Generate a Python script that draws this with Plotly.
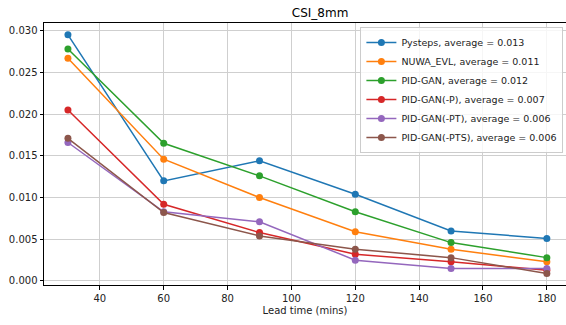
import plotly.graph_objects as go

lead_time = [30, 60, 90, 120, 150, 180]
pysteps = [0.0295, 0.0120, 0.0144, 0.0104, 0.0060, 0.0051]
nuwa_evl = [0.0267, 0.0146, 0.0100, 0.0059, 0.0038, 0.0023]
pid_gan = [0.0278, 0.0165, 0.0126, 0.0083, 0.0046, 0.0028]
pid_gan_p = [0.0205, 0.0092, 0.0058, 0.0032, 0.0023, 0.0013]
pid_gan_pt = [0.0166, 0.0083, 0.0071, 0.0025, 0.0015, 0.0015]
pid_gan_pts = [0.0171, 0.0082, 0.0054, 0.0038, 0.0028, 0.0009]

names = ["Pysteps, average = 0.013", "NUWA_EVL, average = 0.011", "PID-GAN, average = 0.012",
         "PID-GAN(-P), average = 0.007", "PID-GAN(-PT), average = 0.006", "PID-GAN(-PTS), average = 0.006"]
series = [pysteps, nuwa_evl, pid_gan, pid_gan_p, pid_gan_pt, pid_gan_pts]
colors = ["#1f77b4", "#ff7f0e", "#2ca02c", "#d62728", "#9467bd", "#8c564b"]

fig = go.Figure()
for n, s, c in zip(names, series, colors):
    fig.add_trace(go.Scatter(x=lead_time, y=s, name=n, mode="lines+markers",
                             line=dict(color=c, width=1.5), marker=dict(color=c, size=7)))

axis_common = dict(showline=True, linecolor="black", linewidth=1, mirror=True,
                   showgrid=True, gridcolor="#cfcfcf", gridwidth=1, zeroline=False,
                   ticks="outside", ticklen=3.5, tickcolor="black",
                   tickfont=dict(family="DejaVu Sans", size=10, color="#222"))
fig.update_layout(
    width=566, height=325,
    margin=dict(l=44, r=0, t=23, b=40),
    paper_bgcolor="white", plot_bgcolor="white",
    title=dict(text="CSI_8mm", x=0.5655, xanchor="center", y=0.962, yanchor="middle",
               font=dict(family="DejaVu Sans", size=12, color="black")),
    font=dict(family="DejaVu Sans", size=10, color="#222"),
    legend=dict(x=0.995, y=0.985, xanchor="right", yanchor="top",
                bgcolor="rgba(255,255,255,0.8)", bordercolor="#cccccc", borderwidth=1,
                font=dict(family="DejaVu Sans", size=9.5, color="#222"),
                tracegroupgap=0, itemwidth=30),
    showlegend=True,
)
fig.update_xaxes(range=[22.5, 186], tickvals=[40, 60, 80, 100, 120, 140, 160, 180],
                 title=dict(text="Lead time (mins)", font=dict(family="DejaVu Sans", size=10, color="#222"), standoff=4),
                 **axis_common)
fig.update_yaxes(range=[-0.00048, 0.03092], tickvals=[0, 0.005, 0.01, 0.015, 0.02, 0.025, 0.03],
                 tickformat=".3f", **axis_common)
fig.write_html("out.html")
